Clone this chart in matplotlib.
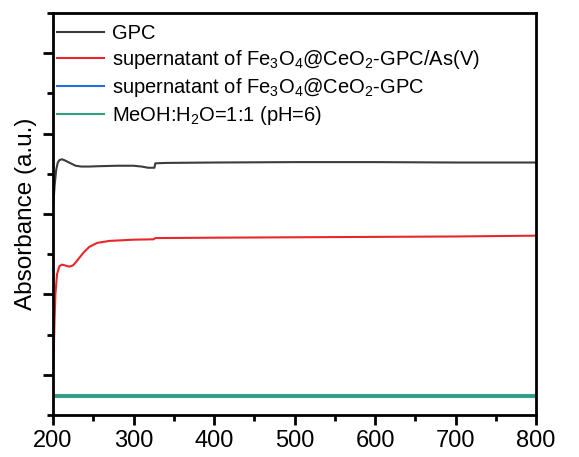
import matplotlib
matplotlib.use("Agg")
from matplotlib import pyplot as plt
from matplotlib.ticker import MultipleLocator

plt.rcParams['font.family'] = ['Liberation Sans', 'DejaVu Sans']
plt.rcParams['mathtext.fontset'] = 'custom'
plt.rcParams['mathtext.rm'] = 'Liberation Sans'
plt.rcParams['mathtext.it'] = 'Liberation Sans:italic'

# GPC spectrum (wavelength nm, absorbance a.u.)
gpc_wl = [200, 201, 202, 204, 206, 208, 211, 214, 218, 222, 228, 235, 245, 260,
          280, 300, 310, 318, 326, 327, 340, 400, 500, 600, 700, 800]
gpc_abs = [2.05, 2.2, 2.35, 2.55, 2.64, 2.67, 2.68, 2.67, 2.65, 2.63, 2.60, 2.59,
           2.59, 2.595, 2.60, 2.60, 2.59, 2.575, 2.575, 2.63, 2.635, 2.64, 2.645,
           2.645, 2.64, 2.64]

# supernatant of Fe3O4@CeO2-GPC/As(V)
sup_as_wl = [200, 201, 202, 203, 205, 208, 211, 215, 220, 225, 230, 238, 245, 255,
             270, 300, 325, 327, 400, 500, 600, 700, 800]
sup_as_abs = [0.0, 0.3, 0.7, 1.0, 1.25, 1.35, 1.37, 1.36, 1.345, 1.36, 1.42, 1.52,
              1.59, 1.64, 1.665, 1.68, 1.685, 1.70, 1.705, 1.71, 1.715, 1.72, 1.73]

# supernatant of Fe3O4@CeO2-GPC and solvent blank (flat)
sup_wl = [200, 800]
sup_abs = [-0.26, -0.26]
blank_wl = [200, 800]
blank_abs = [-0.26, -0.26]

fig = plt.figure(figsize=(5.79, 4.57), dpi=100)
ax = fig.add_axes([0.0915, 0.092, 0.8345, 0.8796])

ax.plot(gpc_wl, gpc_abs, color='#3c3c3c', lw=1.5, label='GPC')
ax.plot(sup_as_wl, sup_as_abs, color='#e8262b', lw=1.5,
        label='supernatant of Fe$_3$O$_4$@CeO$_2$-GPC/As(V)')
ax.plot(sup_wl, sup_abs, color='#1f6fe0', lw=1.5,
        label='supernatant of Fe$_3$O$_4$@CeO$_2$-GPC')
# solvent blank drawn on top, hiding the blue trace underneath
ax.plot(blank_wl, blank_abs, color='#2ea07f', lw=1.5,
        label='MeOH:H$_2$O=1:1 (pH=6)')
ax.plot(blank_wl, blank_abs, color='#2e9a86', lw=3, alpha=0.9)

ax.set_xlim(200, 800)
ax.set_ylim(-0.5, 4.5)
ax.xaxis.set_major_locator(MultipleLocator(100))
ax.xaxis.set_minor_locator(MultipleLocator(50))
ax.yaxis.set_major_locator(MultipleLocator(1))
ax.yaxis.set_minor_locator(MultipleLocator(0.5))
ax.set_yticklabels([])
ax.tick_params(which='major', direction='out', length=7, width=2, labelsize=17)
ax.tick_params(which='minor', direction='out', length=4, width=2)
for sp in ax.spines.values():
    sp.set_linewidth(2)

ax.set_ylabel('Absorbance (a.u.)', fontsize=17.5, labelpad=1)

ax.legend(loc='upper left', frameon=False, fontsize=14.5, handlelength=2.3,
          handletextpad=0.4, labelspacing=0.25, borderaxespad=0.2,
          bbox_to_anchor=(-0.016, 1.003))

fig.savefig('out.png', dpi=100)
